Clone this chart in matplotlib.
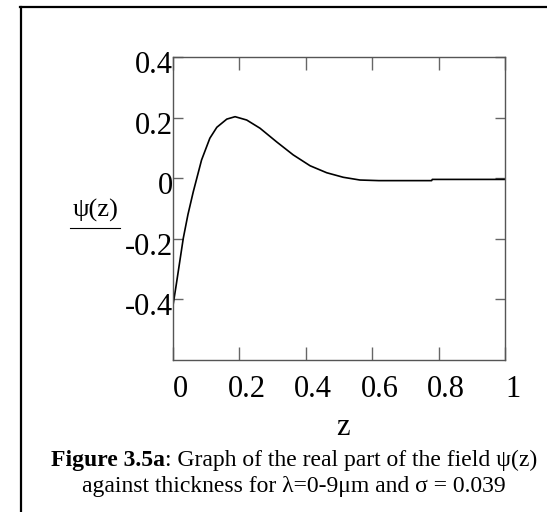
import matplotlib
matplotlib.use("Agg")
import matplotlib.pyplot as plt
import matplotlib.transforms as mtransforms
from matplotlib.lines import Line2D

# ---- data ----
z = [0.0, 0.01, 0.031, 0.045, 0.061, 0.086, 0.111, 0.132, 0.162, 0.187, 0.222,
     0.262, 0.312, 0.362, 0.413, 0.463, 0.513, 0.563, 0.62, 0.70, 0.779, 0.781, 0.90, 1.0]
psi = [-0.42, -0.35, -0.198, -0.12, -0.045, 0.06, 0.132, 0.168, 0.195, 0.203, 0.192,
       0.165, 0.12, 0.077, 0.041, 0.018, 0.003, -0.006, -0.008, -0.008, -0.008, -0.004, -0.004, -0.004]

xticks = [0, 0.2, 0.4, 0.6, 0.8, 1.0]
xlabels = ["0", "0.2", "0.4", "0.6", "0.8", "1"]
yticks = [-0.4, -0.2, 0, 0.2, 0.4]
ylabels = ["-0.4", "-0.2", "0", "0.2", "0.4"]

caption1_bold = "Figure 3.5a"
caption1 = ": Graph of the real part of the field \u03c8(z)"
caption2 = "against thickness for \u03bb=0-9\u03bcm and \u03c3 = 0.039"

plt.rcParams["font.family"] = ["Liberation Serif", "DejaVu Serif"]

W, H = 547, 512
fig = plt.figure(figsize=(W / 100, H / 100), dpi=100)

def fx(px):
    return px / W

def fy(py):
    return 1 - py / H

ax = fig.add_axes([fx(173), fy(360), fx(505) - fx(173), fy(57) - fy(360)])
ax.plot(z, psi, color="black", lw=1.2)
ax.set_xlim(0, 1)
ax.set_ylim(-0.6, 0.4)
ax.set_xticks(xticks)
ax.set_xticklabels(xlabels)
ax.set_yticks(yticks)
ax.set_yticklabels(ylabels)
ax.tick_params(direction="in", width=1, color="#666666",
               top=True, right=True, labelsize=22)
ax.tick_params(axis="x", length=9.4, pad=11)
ax.tick_params(axis="y", length=7.2, pad=0)
for s in ax.spines.values():
    s.set_color("#555555")
    s.set_linewidth(1)

# Mathcad puts the numbers a little off the ticks
dx = mtransforms.ScaledTranslation(7.5 / 100, 0, fig.dpi_scale_trans)
for lab in ax.get_xticklabels():
    lab.set_transform(lab.get_transform() + dx)
dy = mtransforms.ScaledTranslation(0, -5 / 100, fig.dpi_scale_trans)
for lab in ax.get_yticklabels():
    lab.set_transform(lab.get_transform() + dy)

# axis labels, Mathcad style
fig.text(fx(343), fy(435), "z", ha="center", va="baseline", fontsize=22)
fig.text(fx(96), fy(217), "\u03c8(z)", ha="center", va="baseline", fontsize=19)
fig.add_artist(Line2D([fx(70), fx(120)], [fy(228), fy(228)], color="black", lw=0.8))

# caption, both lines centred on x=294
cx = 294
fig.canvas.draw()
r = fig.canvas.get_renderer()
t1 = fig.text(0, fy(466), caption1_bold, ha="left", va="baseline",
              fontsize=17, fontweight="bold")
t2 = fig.text(0, fy(466), caption1, ha="left", va="baseline", fontsize=17)
w1 = t1.get_window_extent(r).width
w2 = t2.get_window_extent(r).width
x0 = cx - (w1 + w2) / 2
t1.set_x(fx(x0))
t2.set_x(fx(x0 + w1))
fig.text(fx(cx), fy(492), caption2, ha="center", va="baseline", fontsize=17)

# outer frame (cropped)
fig.add_artist(Line2D([fx(20), fx(547)], [fy(7), fy(7)], color="black", lw=1.6))
fig.add_artist(Line2D([fx(20.5), fx(20.5)], [fy(6.5), fy(512)], color="black", lw=1.6))

fig.savefig("out.png", dpi=100)
